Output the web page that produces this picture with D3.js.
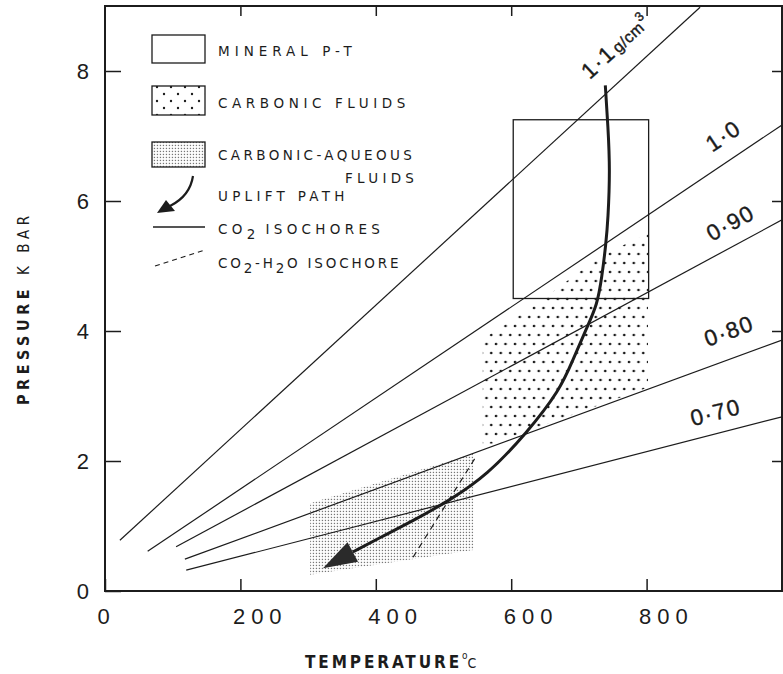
<!DOCTYPE html>
<html>
<head>
<meta charset="utf-8">
<script src="https://cdnjs.cloudflare.com/ajax/libs/d3/7.8.5/d3.min.js"></script>
<style>
  html, body { margin: 0; padding: 0; background: #fff; }
  svg { display: block; }
</style>
</head>
<body>
<svg id="chart" width="783" height="674"></svg>
<script>
// tick values
const tempTicks = [0, 200, 400, 600, 800];
const pressTicks = [0, 2, 4, 6, 8];

// CO2 isochores, end points as [T degC, P kbar]
const isoLabels = ["1·1", "1·0", "0·90", "0·80", "0·70"];
const isoStart = [[22, 0.78], [63, 0.61], [105, 0.68], [118, 0.49], [120, 0.32]];
const isoEnd = [[879, 8.98], [1000, 7.17], [1000, 5.71], [1000, 3.86], [1000, 2.68]];

// CO2-H2O isochore (dashed)
const mixIsochore = [[455, 0.52], [547, 2.05]];

// mineral P-T box
const mineralT = [603, 803];
const mineralP = [4.5, 7.25];

// carbonic fluids field
const carbonicField = [[558, 3.88], [637, 4.41], [731, 5.15], [802, 5.5], [802, 3.13], [573, 2.27], [558, 2.27]];

// carbonic-aqueous fluids field
const aqueousField = [[303, 1.35], [544, 2.11], [544, 0.63], [303, 0.25]];

// uplift path, last point is the arrow tip
const upliftPath = [[739, 7.78], [743, 7.14], [746, 6.48], [743, 5.71], [740, 5.35], [734, 4.83],
    [727, 4.4], [712, 4.06], [691, 3.55], [672, 3.09], [623, 2.43], [564, 1.78],
    [510, 1.4], [455, 1.08], [406, 0.82], [366, 0.6], [322, 0.35]];

const legendLabels = ["MINERAL P-T", "CARBONIC FLUIDS", "CARBONIC-AQUEOUS", "UPLIFT PATH"];

const ink = "#1c1c1c";
const svg = d3.select("#chart");

const x = d3.scaleLinear().domain([0, 1000]).range([105, 782]);
const y = d3.scaleLinear().domain([0, 9]).range([591, 6]);

// patterns
const defs = svg.append("defs");
const coarse = defs.append("pattern").attr("id", "coarse")
    .attr("patternUnits", "userSpaceOnUse").attr("width", 9.5).attr("height", 18);
coarse.append("circle").attr("cx", 2).attr("cy", 2).attr("r", 1.35).attr("fill", ink);
coarse.append("circle").attr("cx", 6.75).attr("cy", 11).attr("r", 1.35).attr("fill", ink);

const coarseLeg = defs.append("pattern").attr("id", "coarseLeg")
    .attr("patternUnits", "userSpaceOnUse").attr("width", 14).attr("height", 14);
coarseLeg.append("circle").attr("cx", 3).attr("cy", 3).attr("r", 1.2).attr("fill", ink);
coarseLeg.append("circle").attr("cx", 10).attr("cy", 10).attr("r", 1.2).attr("fill", ink);

const fine = defs.append("pattern").attr("id", "fine")
    .attr("patternUnits", "userSpaceOnUse").attr("width", 3).attr("height", 3);
fine.append("rect").attr("x", 0.8).attr("y", 0.8).attr("width", 1.3).attr("height", 1.3).attr("fill", "#777");

defs.append("clipPath").attr("id", "plotClip")
    .append("rect").attr("x", x(0)).attr("y", y(9)).attr("width", x(1000) - x(0)).attr("height", y(0) - y(9));

const plot = svg.append("g").attr("clip-path", "url(#plotClip)");

const toPts = arr => arr.map(d => [x(d[0]), y(d[1])].join(",")).join(" ");

// fields
plot.append("polygon").attr("points", toPts(aqueousField)).attr("fill", "url(#fine)");
plot.append("polygon").attr("points", toPts(carbonicField)).attr("fill", "url(#coarse)");

// mineral box
plot.append("rect")
    .attr("x", x(mineralT[0])).attr("y", y(mineralP[1]))
    .attr("width", x(mineralT[1]) - x(mineralT[0]))
    .attr("height", y(mineralP[0]) - y(mineralP[1]))
    .attr("fill", "none").attr("stroke", ink).attr("stroke-width", 1.3);

// isochores
isoLabels.forEach((lab, i) => {
    plot.append("line")
        .attr("x1", x(isoStart[i][0])).attr("y1", y(isoStart[i][1]))
        .attr("x2", x(isoEnd[i][0])).attr("y2", y(isoEnd[i][1]))
        .attr("stroke", ink).attr("stroke-width", 1.2);
});

plot.append("line")
    .attr("x1", x(mixIsochore[0][0])).attr("y1", y(mixIsochore[0][1]))
    .attr("x2", x(mixIsochore[1][0])).attr("y2", y(mixIsochore[1][1]))
    .attr("stroke", ink).attr("stroke-width", 1.2).attr("stroke-dasharray", "6,5");

// isochore labels, placed along each line
const labelT = [737, 910, 906, 900, 873];
const labelGap = [21, 16, 14, 19, 13];
isoLabels.forEach((lab, i) => {
    const x1 = x(isoStart[i][0]), y1 = y(isoStart[i][1]);
    const x2 = x(isoEnd[i][0]), y2 = y(isoEnd[i][1]);
    const ang = Math.atan2(y2 - y1, x2 - x1) * 180 / Math.PI;
    const t = (labelT[i] - isoStart[i][0]) / (isoEnd[i][0] - isoStart[i][0]);
    const px = x1 + t * (x2 - x1), py = y1 + t * (y2 - y1);
    const txt = svg.append("text")
        .attr("transform", "translate(" + px + "," + py + ") rotate(" + ang + ")")
        .attr("y", -labelGap[i])
        .attr("font-family", "Liberation Sans, Arial, sans-serif")
        .attr("font-size", 22.5).attr("letter-spacing", 1.5).attr("fill", ink)
        .attr("stroke", ink).attr("stroke-width", 0.4);
    txt.append("tspan").text(lab);
    if (i === 0) {
        txt.append("tspan").attr("dx", 2).attr("font-size", 16).attr("letter-spacing", 0.5).text("g/cm");
        txt.append("tspan").attr("dy", -9).attr("font-size", 13).text("3");
    }
});

// uplift path
const pathPts = upliftPath.map(d => [x(d[0]), y(d[1])]);
const tip = pathPts[pathPts.length - 1];
const base = pathPts[pathPts.length - 2];
plot.append("path")
    .attr("d", d3.line().curve(d3.curveBasis)(pathPts.slice(0, -1)))
    .attr("fill", "none").attr("stroke", ink).attr("stroke-width", 3);
const dx = tip[0] - base[0], dy = tip[1] - base[1];
const len = Math.hypot(dx, dy);
const nx = -dy / len * 11, ny = dx / len * 11;
plot.append("polygon")
    .attr("points", [[tip[0], tip[1]], [base[0] + nx, base[1] + ny], [base[0] - nx, base[1] - ny]].map(p => p.join(",")).join(" "))
    .attr("fill", "#2a2a2a");

// frame
svg.append("rect")
    .attr("x", x(0)).attr("y", y(9))
    .attr("width", x(1000) - x(0)).attr("height", y(0) - y(9))
    .attr("fill", "none").attr("stroke", ink).attr("stroke-width", 2);

// axes
const xAxis = svg.append("g").attr("transform", "translate(0," + y(0) + ")")
    .call(d3.axisBottom(x).tickValues(tempTicks).tickSize(-12).tickPadding(17));
xAxis.select(".domain").remove();
xAxis.selectAll("line").attr("stroke", ink).attr("stroke-width", 1.5);
xAxis.selectAll("text")
    .attr("text-anchor", "start").attr("dx", -8)
    .attr("font-family", "Liberation Sans, Arial, sans-serif")
    .attr("font-size", 22).attr("letter-spacing", 6).attr("fill", ink);

const xTop = svg.append("g").attr("transform", "translate(0," + y(9) + ")")
    .call(d3.axisTop(x).tickValues(tempTicks.slice(1)).tickSize(-10).tickFormat(""));
xTop.select(".domain").remove();
xTop.selectAll("line").attr("stroke", ink).attr("stroke-width", 1.5);

const yAxis = svg.append("g").attr("transform", "translate(" + x(0) + ",0)")
    .call(d3.axisLeft(y).tickValues(pressTicks).tickSize(-16).tickPadding(16));
yAxis.select(".domain").remove();
yAxis.selectAll("line").attr("stroke", ink).attr("stroke-width", 1.5);
yAxis.selectAll("text")
    .attr("font-family", "Liberation Sans, Arial, sans-serif")
    .attr("font-size", 22).attr("fill", ink);

const yRight = svg.append("g").attr("transform", "translate(" + x(1000) + ",0)")
    .call(d3.axisRight(y).tickValues(pressTicks.slice(1)).tickSize(-10).tickFormat(""));
yRight.select(".domain").remove();
yRight.selectAll("line").attr("stroke", ink).attr("stroke-width", 1.5);

// axis titles
const xTitle = svg.append("text").attr("x", 305).attr("y", 668)
    .attr("font-family", "DejaVu Sans Condensed, DejaVu Sans, sans-serif")
    .attr("font-weight", "bold").attr("font-size", 17).attr("letter-spacing", 2.9).attr("fill", ink);
xTitle.append("tspan").text("TEMPERATURE");
xTitle.append("tspan").attr("dy", -9).attr("font-size", 10).attr("font-weight", "normal").attr("letter-spacing", 0).text("o");
xTitle.append("tspan").attr("dy", 9).attr("font-size", 14).attr("font-weight", "normal").attr("letter-spacing", 0).text("C");

const yTitle = svg.append("text").attr("transform", "translate(29,405) rotate(-90)")
    .attr("font-family", "DejaVu Sans Condensed, DejaVu Sans, sans-serif")
    .attr("fill", ink);
yTitle.append("tspan").attr("font-weight", "bold").attr("font-size", 16).attr("letter-spacing", 4.5).text("PRESSURE");
yTitle.append("tspan").attr("dx", 10).attr("font-size", 15).attr("letter-spacing", 4.5).text("K BAR");

// legend
const leg = svg.append("g");
const legFont = "DejaVu Sans, sans-serif";
leg.append("rect").attr("x", 152).attr("y", 35).attr("width", 53).attr("height", 28)
    .attr("fill", "none").attr("stroke", ink).attr("stroke-width", 1.3);
leg.append("rect").attr("x", 152).attr("y", 86).attr("width", 53).attr("height", 29)
    .attr("fill", "url(#coarseLeg)").attr("stroke", ink).attr("stroke-width", 1.3);
leg.append("rect").attr("x", 152).attr("y", 142).attr("width", 53).attr("height", 25)
    .attr("fill", "url(#fine)").attr("stroke", ink).attr("stroke-width", 1.3);
leg.append("path").attr("d", "M193,176 Q190,196 170,206")
    .attr("fill", "none").attr("stroke", ink).attr("stroke-width", 2.2);
leg.append("polygon").attr("points", "157,213 166,200 175,211").attr("fill", ink);
leg.append("line").attr("x1", 153).attr("y1", 227).attr("x2", 205).attr("y2", 227)
    .attr("stroke", ink).attr("stroke-width", 1.3);
leg.append("line").attr("x1", 155).attr("y1", 266).attr("x2", 205).attr("y2", 250)
    .attr("stroke", ink).attr("stroke-width", 1.2).attr("stroke-dasharray", "5,4");

const legText = (tx, ty, ls) => leg.append("text").attr("x", tx).attr("y", ty)
    .attr("font-family", legFont).attr("font-size", 13.5).attr("letter-spacing", ls).attr("fill", ink);
legText(218, 56, 5).text(legendLabels[0]);
legText(218, 108, 4.6).text(legendLabels[1]);
legText(218, 160, 3.4).text(legendLabels[2]);
legText(345, 183, 4.3).text("FLUIDS");
legText(218, 201, 4.3).text(legendLabels[3]);
const co2 = legText(218, 234, 4.3);
co2.append("tspan").text("CO");
co2.append("tspan").attr("dy", 5).text("2");
co2.append("tspan").attr("dy", -5).attr("dx", 6).text("ISOCHORES");
const mix = legText(218, 268, 2.8);
mix.append("tspan").text("CO");
mix.append("tspan").attr("dy", 5).text("2");
mix.append("tspan").attr("dy", -5).text("-H");
mix.append("tspan").attr("dy", 5).text("2");
mix.append("tspan").attr("dy", -5).text("O ISOCHORE");
</script>
</body>
</html>
